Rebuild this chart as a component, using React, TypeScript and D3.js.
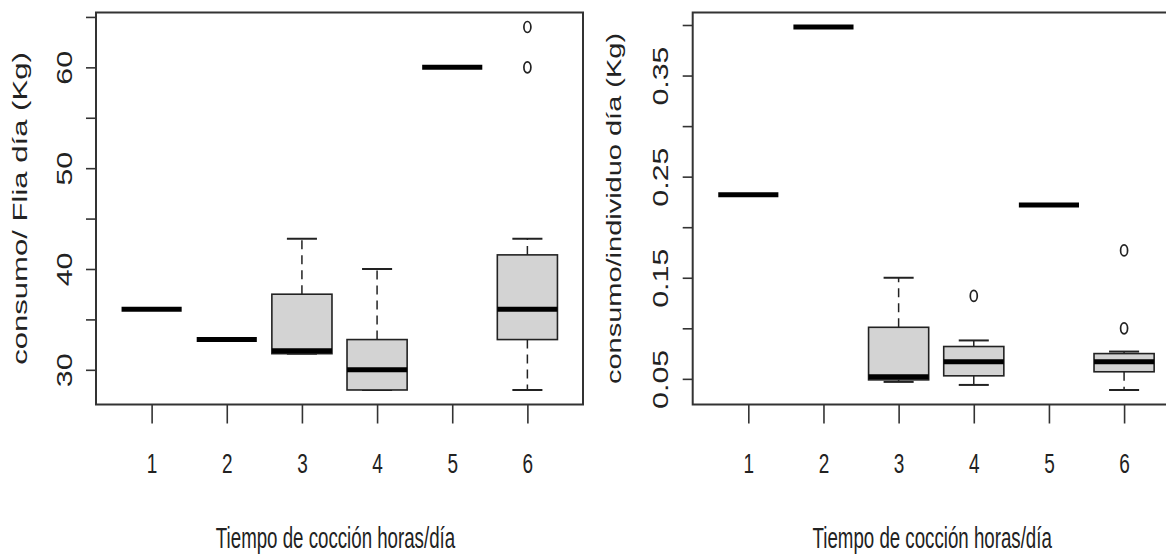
import React, { useEffect, useRef } from 'react';
import * as d3 from 'd3';

const groups = ['1', '2', '3', '4', '5', '6'];

// left panel: consumo por familia (Kg)
const fliaLow = [36, 33, 31.6, 28, 60, 28];
const fliaQ1 = [36, 33, 31.6, 28, 60, 33];
const fliaMedian = [36, 33, 31.9, 30, 60, 36];
const fliaQ3 = [36, 33, 37.5, 33, 60, 41.4];
const fliaHigh = [36, 33, 43, 40, 60, 43];
const fliaOutliers = [[], [], [], [], [], [60, 64]];
const fliaTicks = [30, 35, 40, 45, 50, 55, 60, 65];
const fliaLabels = [30, 40, 50, 60];

// right panel: consumo por individuo (Kg)
const indLow = [0.232, 0.398, 0.047, 0.044, 0.222, 0.039];
const indQ1 = [0.232, 0.398, 0.049, 0.053, 0.222, 0.057];
const indMedian = [0.232, 0.398, 0.052, 0.067, 0.222, 0.067];
const indQ3 = [0.232, 0.398, 0.101, 0.082, 0.222, 0.075];
const indHigh = [0.232, 0.398, 0.15, 0.088, 0.222, 0.077];
const indOutliers = [[], [], [], [0.132], [], [0.1, 0.177]];
const indTicks = [0.05, 0.1, 0.15, 0.2, 0.25, 0.3, 0.35, 0.4];
const indLabels = [0.05, 0.15, 0.25, 0.35];

const xTitle = 'Tiempo de cocción horas/día';

interface Panel {
  left: number;
  low: number[];
  q1: number[];
  median: number[];
  q3: number[];
  high: number[];
  outliers: number[][];
  ticks: number[];
  labels: number[];
  fmt: (n: number) => string;
  ylab: string;
  ylabOffset: number;
  ylabStretch: number;
}

const panels: Panel[] = [
  {
    left: 96, low: fliaLow, q1: fliaQ1, median: fliaMedian, q3: fliaQ3, high: fliaHigh,
    outliers: fliaOutliers, ticks: fliaTicks, labels: fliaLabels, fmt: d3.format('d'),
    ylab: 'consumo/ Flia día (Kg)', ylabOffset: 69, ylabStretch: 1.48,
  },
  {
    left: 692.7, low: indLow, q1: indQ1, median: indMedian, q3: indQ3, high: indHigh,
    outliers: indOutliers, ticks: indTicks, labels: indLabels, fmt: d3.format('.2f'),
    ylab: 'consumo/individuo día (Kg)', ylabOffset: 72, ylabStretch: 1.38,
  },
];

const W = 1166;
const H = 554;
const plotW = 487;
const top = 12.5;
const bottom = 404.5;
const font = '"Liberation Sans", Arial, sans-serif';

const App: React.FC = () => {
  const svgRef = useRef<SVGSVGElement>(null);

  useEffect(() => {
    const svg = d3.select(svgRef.current);
    svg.selectAll('*').remove();

    panels.forEach((p) => {
      const g = svg.append('g');
      const x = d3.scalePoint<string>().domain(groups).range([p.left, p.left + plotW]).padding(0.74);
      const step = x.step();
      const all = [...p.low, ...p.high, ...p.outliers.flat()];
      const lo = d3.min(all) as number;
      const hi = d3.max(all) as number;
      const pad = (hi - lo) * 0.04;
      const y = d3.scaleLinear().domain([lo - pad, hi + pad]).range([bottom, top]);

      const hw = step * 0.4;
      const sw = step * 0.2;

      groups.forEach((gr, i) => {
        const cx = x(gr) as number;
        // whiskers
        if (p.high[i] > p.q3[i]) {
          g.append('line').attr('x1', cx).attr('x2', cx)
            .attr('y1', y(p.q3[i])).attr('y2', y(p.high[i]))
            .attr('stroke', '#222').attr('stroke-width', 1.5).attr('stroke-dasharray', '9,6');
        }
        if (p.low[i] < p.q1[i]) {
          g.append('line').attr('x1', cx).attr('x2', cx)
            .attr('y1', y(p.q1[i])).attr('y2', y(p.low[i]))
            .attr('stroke', '#222').attr('stroke-width', 1.5).attr('stroke-dasharray', '9,6');
        }
        // staples
        [p.low[i], p.high[i]].forEach((v) => {
          g.append('line').attr('x1', cx - sw).attr('x2', cx + sw)
            .attr('y1', y(v)).attr('y2', y(v))
            .attr('stroke', '#222').attr('stroke-width', 2);
        });
        // box
        if (p.q3[i] > p.q1[i]) {
          g.append('rect').attr('x', cx - hw).attr('width', hw * 2)
            .attr('y', y(p.q3[i])).attr('height', y(p.q1[i]) - y(p.q3[i]))
            .attr('fill', '#d3d3d3').attr('stroke', '#222').attr('stroke-width', 1.6);
        }
        // median
        g.append('line').attr('x1', cx - hw).attr('x2', cx + hw)
          .attr('y1', y(p.median[i])).attr('y2', y(p.median[i]))
          .attr('stroke', '#000').attr('stroke-width', 5);
        // outliers
        p.outliers[i].forEach((v) => {
          g.append('ellipse').attr('cx', cx).attr('cy', y(v))
            .attr('rx', 3.5).attr('ry', 5.5)
            .attr('fill', 'none').attr('stroke', '#222').attr('stroke-width', 1.7);
        });
      });

      // frame
      g.append('rect').attr('x', p.left).attr('y', top)
        .attr('width', plotW).attr('height', bottom - top)
        .attr('fill', 'none').attr('stroke', '#333').attr('stroke-width', 2);

      // x axis
      const xa = g.append('g').attr('transform', `translate(0,${bottom})`)
        .call(d3.axisBottom(x).tickSize(19).tickSizeOuter(0));
      xa.select('.domain').remove();
      xa.selectAll('line').attr('stroke', '#333').attr('stroke-width', 1.6);
      xa.selectAll('text')
        .attr('y', null).attr('dy', null)
        .attr('transform', 'translate(0,68.5) scale(1,1.45)')
        .attr('fill', '#222')
        .style('font-family', font).style('font-size', '19px');

      // y axis
      const ya = g.append('g').attr('transform', `translate(${p.left},0)`)
        .call(d3.axisLeft(y).tickValues(p.ticks).tickSize(10).tickSizeOuter(0)
          .tickFormat((d: any) => (p.labels.some((l) => Math.abs(l - d) < 1e-9) ? p.fmt(d) : '')));
      ya.select('.domain').remove();
      ya.selectAll('line').attr('stroke', '#333').attr('stroke-width', 1.6);
      ya.selectAll('text')
        .attr('x', null).attr('dy', null)
        .attr('text-anchor', 'middle')
        .attr('transform', 'translate(-24.5,0) rotate(-90) scale(1.38,1)')
        .attr('fill', '#222')
        .style('font-family', font).style('font-size', '22px');

      // titles
      g.append('text')
        .attr('transform', `translate(${p.left + plotW / 2 - 4},548) scale(1,1.55)`)
        .attr('text-anchor', 'middle')
        .attr('fill', '#222')
        .style('font-family', font).style('font-size', '18.7px')
        .text(xTitle);

      g.append('text')
        .attr('transform', `translate(${p.left - p.ylabOffset},${(top + bottom) / 2}) rotate(-90) scale(${p.ylabStretch},1)`)
        .attr('text-anchor', 'middle')
        .attr('fill', '#222')
        .style('font-family', font).style('font-size', '21px')
        .text(p.ylab);
    });
  }, []);

  return (
    <svg
      ref={svgRef}
      width={W}
      height={H}
      style={{ position: 'absolute', left: 0, top: 0, background: '#fff' }}
    />
  );
};

export default App;
